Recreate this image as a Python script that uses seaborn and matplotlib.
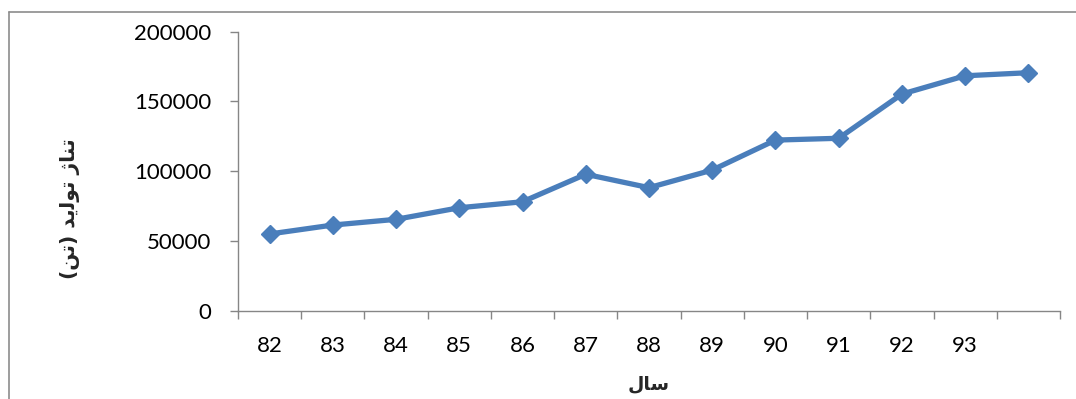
import numpy as np
import pandas as pd
import matplotlib
matplotlib.use("Agg")
import matplotlib.pyplot as plt
from matplotlib.lines import Line2D
from matplotlib.ticker import FixedLocator, FixedFormatter, FormatStrFormatter
import seaborn as sns

# Production tonnage per year (Iranian calendar years 82..94)
year_labels = ["82", "83", "84", "85", "86", "87", "88", "89", "90", "91", "92", "93", ""]
tonnage = [55000, 61400, 65500, 73800, 78100, 97800, 88200, 100800,
           122300, 123600, 155300, 168400, 170600]
y_ticks = [0, 50000, 100000, 150000, 200000]

# Arabic-script labels written in visual (shaped, left-to-right) order
ylabel_text = "(\uFEE6\uFE97) \uFEAA\uFBFE\uFEDF\uFEEE\uFE97 \uFB8A\uFE8E\uFEE8\uFE97"   # تناژ تولید (تن)
xlabel_text = "\uFEDD\uFE8E\uFEB3"                                                      # سال

sns.set_theme(style="white")
plt.rcParams["font.family"] = ["Lato", "DejaVu Sans"]

LINE_BLUE = "#4A7EBB"
AXIS_GREY = "#868686"

df = pd.DataFrame({"pos": np.arange(len(tonnage)), "tonnage": tonnage})

fig = plt.figure(figsize=(10.76, 3.99), dpi=100)
W, H = 1076, 399
left, right, top, bottom = 238, 1060, 31.7, 310.7
ax = fig.add_axes([left / W, 1 - bottom / H, (right - left) / W, (bottom - top) / H])

sns.lineplot(data=df, x="pos", y="tonnage", ax=ax, color=LINE_BLUE,
             linewidth=3.8, marker="D", markersize=9.5,
             markeredgecolor=LINE_BLUE, markeredgewidth=1.0, zorder=3)

n = len(tonnage)
ax.set_xlim(-0.5, n - 0.5)
ax.set_ylim(0, 200000)

# Category boundaries carry the tick marks, centres carry the labels
ax.xaxis.set_major_locator(FixedLocator(np.arange(n + 1) - 0.5))
ax.xaxis.set_major_formatter(FixedFormatter([""] * (n + 1)))
ax.xaxis.set_minor_locator(FixedLocator(np.arange(n)))
ax.xaxis.set_minor_formatter(FixedFormatter(year_labels))
ax.tick_params(axis="x", which="major", direction="out", length=6, width=1.0,
               color=AXIS_GREY, bottom=True)
ax.tick_params(axis="x", which="minor", length=0, pad=18, labelsize=16,
               labelcolor="black", bottom=True)

ax.set_yticks(y_ticks)
ax.yaxis.set_major_formatter(FormatStrFormatter("%d"))
ax.tick_params(axis="y", direction="out", length=6, width=1.0, color=AXIS_GREY,
               pad=13, labelsize=16, labelcolor="black", left=True)

for side in ("top", "right"):
    ax.spines[side].set_visible(False)
for side in ("left", "bottom"):
    ax.spines[side].set_color(AXIS_GREY)
    ax.spines[side].set_linewidth(1.0)
ax.grid(False)

ax.set_xlabel(xlabel_text, family=["DejaVu Sans"], fontweight="bold", fontsize=13.5)
ax.xaxis.label.set_va("center")
ax.xaxis.set_label_coords(0.5, -0.262)

ax.set_ylabel(ylabel_text, family=["DejaVu Sans"], fontweight="bold", fontsize=14.5)
ax.yaxis.label.set_va("center")
ax.yaxis.set_label_coords((70 - left) / (right - left), (bottom - 209) / (bottom - top))

# Outer chart border (left and top edges)
fig.add_artist(Line2D([8.5 / W, 8.5 / W], [0, 1 - 11.5 / H], transform=fig.transFigure,
                      color="#8C8C8C", linewidth=1.2))
fig.add_artist(Line2D([8.5 / W, 1], [1 - 11.5 / H, 1 - 11.5 / H], transform=fig.transFigure,
                      color="#8C8C8C", linewidth=1.2))

fig.savefig("out.png", dpi=100)
